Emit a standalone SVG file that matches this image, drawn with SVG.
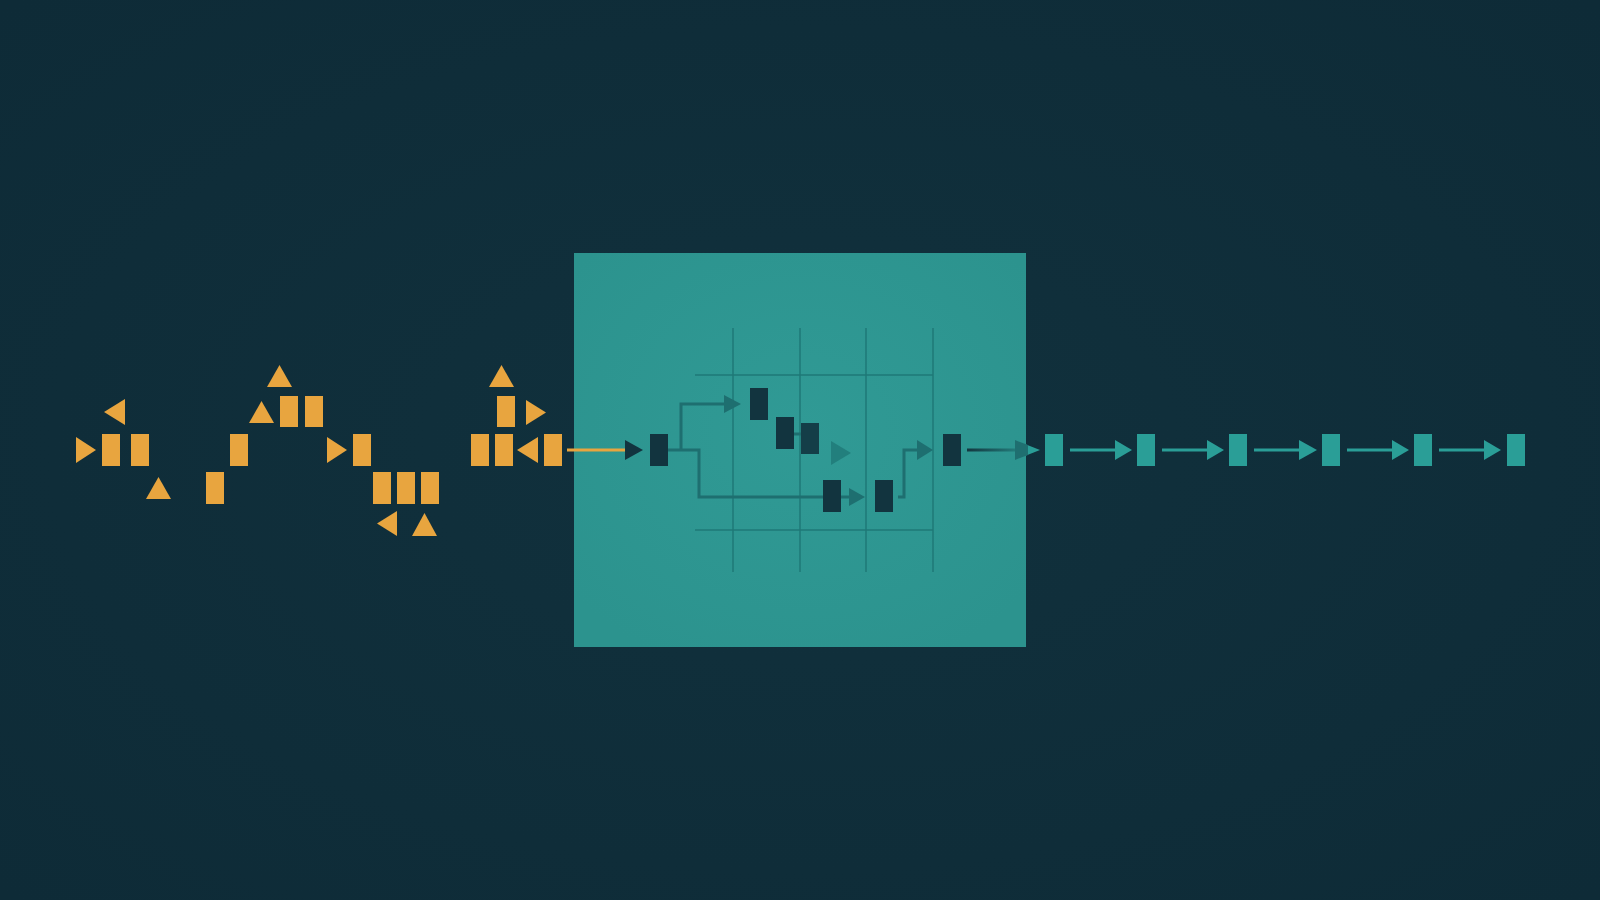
<svg xmlns="http://www.w3.org/2000/svg" width="1600" height="900" viewBox="0 0 1600 900">
<defs>
<style>
.o{fill:#e8a53f}
.t{fill:#2a9e97}
.d{fill:#12343f}
.grid{stroke:#1f7877;stroke-width:1.5;fill:none}
.wire{stroke:#1e6f70;stroke-width:3;fill:none}
.tl{stroke:#2a9e97;stroke-width:3}
</style>
<radialGradient id="bg" cx="50%" cy="50%" r="70%">
<stop offset="0" stop-color="#11313d"/>
<stop offset="1" stop-color="#0e2b37"/>
</radialGradient>
<radialGradient id="box" cx="50%" cy="45%" r="65%">
<stop offset="0" stop-color="#309a95"/>
<stop offset="1" stop-color="#2c938e"/>
</radialGradient>
<linearGradient id="outg" x1="967" y1="0" x2="1040" y2="0" gradientUnits="userSpaceOnUse">
<stop offset="0" stop-color="#13363f"/>
<stop offset="1" stop-color="#2a9e97"/>
</linearGradient>
</defs>
<rect width="1600" height="900" fill="url(#bg)"/>

<g id="processor">
<rect x="574" y="253" width="452" height="394" fill="url(#box)"/>
<g id="grid" class="grid">
<line x1="733" y1="328" x2="733" y2="572"/>
<line x1="800" y1="328" x2="800" y2="572"/>
<line x1="866" y1="328" x2="866" y2="572"/>
<line x1="933" y1="328" x2="933" y2="572"/>
<line x1="695" y1="375" x2="933" y2="375"/>
<line x1="695" y1="530" x2="933" y2="530"/>
</g>
</g>

<g id="connectors">
<line x1="567" y1="450" x2="627" y2="450" stroke="#e8a53f" stroke-width="3"/>
<polygon points="625,440 643,450 625,460" fill="#12343f"/>
<polyline class="wire" points="668,450 699,450 699,497 823,497"/>
<polyline class="wire" points="681,450 681,404 726,404"/>
<polygon points="724,395 741,404 724,413" fill="#1e6f70"/>
<line x1="794" y1="434" x2="801" y2="434" class="wire"/>
<polygon points="831,441 851,453 831,465" fill="#227f7d"/>
<line x1="841" y1="497" x2="850" y2="497" class="wire"/>
<polygon points="849,488 865,497 849,506" fill="#1e6f70"/>
<polyline class="wire" points="898,497 904,497 904,450 918,450"/>
<polygon points="917,440 933,450 917,460" fill="#1e6f70"/>
<line x1="967" y1="450" x2="1017" y2="450" stroke="url(#outg)" stroke-width="3"/>
<polygon points="1015,440 1040,450 1015,460" fill="#2a9e97"/>
<polygon points="1015,440 1028,445 1028,455 1015,460" fill="#1f6f70"/>
<line class="tl" x1="1070" y1="450" x2="1117" y2="450"/>
<polygon class="t" points="1115,440 1132,450 1115,460"/>
<line class="tl" x1="1162" y1="450" x2="1209" y2="450"/>
<polygon class="t" points="1207,440 1224,450 1207,460"/>
<line class="tl" x1="1254" y1="450" x2="1301" y2="450"/>
<polygon class="t" points="1299,440 1317,450 1299,460"/>
<line class="tl" x1="1347" y1="450" x2="1394" y2="450"/>
<polygon class="t" points="1392,440 1409,450 1392,460"/>
<line class="tl" x1="1439" y1="450" x2="1486" y2="450"/>
<polygon class="t" points="1484,440 1501,450 1484,460"/>
</g>

<g id="input-scatter">
<polygon class="o" points="104,412 125,399 125,425"/>
<polygon class="o" points="76,437 96,450 76,463"/>
<rect class="o" x="102" y="434" width="18" height="32"/>
<rect class="o" x="131" y="434" width="18" height="32"/>
<polygon class="o" points="158.5,477 171,499 146,499"/>
<rect class="o" x="206" y="472" width="18" height="32"/>
<rect class="o" x="230" y="434" width="18" height="32"/>
<polygon class="o" points="261.5,401 274,423 249,423"/>
<polygon class="o" points="279.5,365 292,387 267,387"/>
<rect class="o" x="280" y="396" width="18" height="31"/>
<rect class="o" x="305" y="396" width="18" height="31"/>
<polygon class="o" points="327,437 347,450 327,463"/>
<rect class="o" x="353" y="434" width="18" height="32"/>
<rect class="o" x="373" y="472" width="18" height="32"/>
<rect class="o" x="397" y="472" width="18" height="32"/>
<rect class="o" x="421" y="472" width="18" height="32"/>
<polygon class="o" points="377,523.5 397,511 397,536"/>
<polygon class="o" points="424.5,513 437,536 412,536"/>
<polygon class="o" points="501.5,365 514,387 489,387"/>
<rect class="o" x="497" y="396" width="18" height="31"/>
<polygon class="o" points="526,400 546,412.5 526,425"/>
<rect class="o" x="471" y="434" width="18" height="32"/>
<rect class="o" x="495" y="434" width="18" height="32"/>
<polygon class="o" points="517,450 538,437 538,463"/>
<rect class="o" x="544" y="434" width="18" height="32"/>
</g>

<g id="inner-nodes">
<rect class="d" x="650" y="434" width="18" height="32"/>
<rect class="d" x="750" y="388" width="18" height="32"/>
<rect class="d" x="776" y="417" width="18" height="32"/>
<rect class="d" x="801" y="423" width="18" height="31" opacity="0.9"/>
<rect class="d" x="823" y="480" width="18" height="32"/>
<rect class="d" x="875" y="480" width="18" height="32"/>
<rect class="d" x="943" y="434" width="18" height="32"/>
</g>

<g id="output-chain">
<rect class="t" x="1045" y="434" width="18" height="32"/>
<rect class="t" x="1137" y="434" width="18" height="32"/>
<rect class="t" x="1229" y="434" width="18" height="32"/>
<rect class="t" x="1322" y="434" width="18" height="32"/>
<rect class="t" x="1414" y="434" width="18" height="32"/>
<rect class="t" x="1507" y="434" width="18" height="32"/>
</g>
</svg>
